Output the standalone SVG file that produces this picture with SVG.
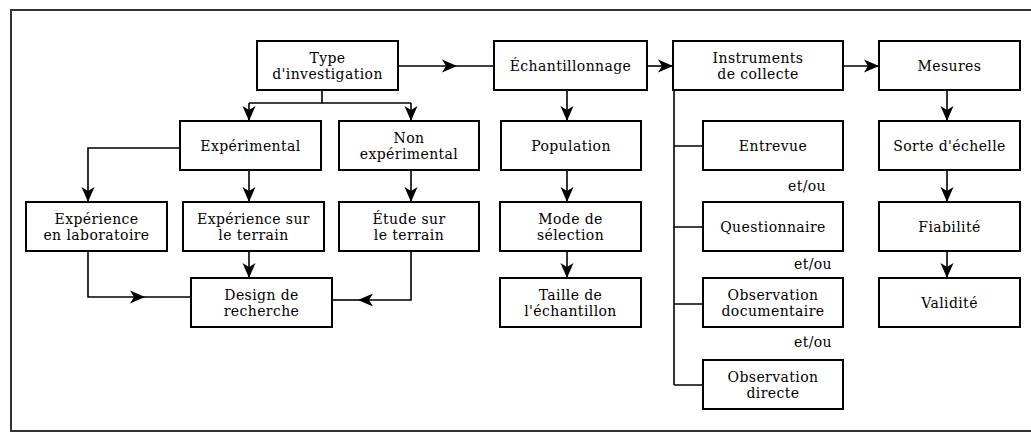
<svg xmlns="http://www.w3.org/2000/svg" width="1031" height="433" viewBox="0 0 1031 433">
<style>
.box{fill:#fff;stroke:#000;stroke-width:2}
.c{fill:none;stroke:#000;stroke-width:1.6}
text{font-family:"DejaVu Serif","Liberation Serif",serif;font-size:14px;letter-spacing:0.4px;fill:#000;text-anchor:middle}
.frame{fill:none;stroke:#333;stroke-width:2}
</style>
<defs>
<marker id="ah" viewBox="-15 -7 15 14" refX="0" refY="0" markerWidth="15" markerHeight="14" orient="auto" markerUnits="userSpaceOnUse">
<path d="M0,0 L-15,-6.5 L-11,0 L-15,6.5 Z" fill="#000"/>
</marker>
</defs>
<rect width="1031" height="433" fill="#fff"/>
<path class="frame" d="M1031,10 H11 V431 H1031"/>
<g id="connectors">
<path class="c" d="M398,66 H457" marker-end="url(#ah)"/>
<path class="c" d="M457,66 H494"/>
<path class="c" d="M647,66 H673" marker-end="url(#ah)"/>
<path class="c" d="M843,66 H879" marker-end="url(#ah)"/>
<path class="c" d="M322,90 V103 M249,103 H411"/>
<path class="c" d="M249,103 V121" marker-end="url(#ah)"/>
<path class="c" d="M411,103 V121" marker-end="url(#ah)"/>
<path class="c" d="M180,148 H88 V202" marker-end="url(#ah)"/>
<path class="c" d="M249,170 V202" marker-end="url(#ah)"/>
<path class="c" d="M411,170 V202" marker-end="url(#ah)"/>
<path class="c" d="M249,251 V278" marker-end="url(#ah)"/>
<path class="c" d="M88,251 V297 H145" marker-end="url(#ah)"/>
<path class="c" d="M145,297 H191"/>
<path class="c" d="M411,251 V300 H358" marker-end="url(#ah)"/>
<path class="c" d="M358,300 H332"/>
<path class="c" d="M567,90 V121" marker-end="url(#ah)"/>
<path class="c" d="M567,170 V202" marker-end="url(#ah)"/>
<path class="c" d="M567,251 V278" marker-end="url(#ah)"/>
<path class="c" d="M674,90 V385 M674,146 H703 M674,227 H703 M674,304 H703 M674,385 H703"/>
<path class="c" d="M947,90 V121" marker-end="url(#ah)"/>
<path class="c" d="M947,170 V202" marker-end="url(#ah)"/>
<path class="c" d="M947,251 V278" marker-end="url(#ah)"/>
</g>
<g id="type"><rect class="box" x="257" y="41" width="141" height="49"/><text x="327.5" y="62.5">Type</text><text x="327.5" y="79">d'investigation</text></g>
<g id="echantillonnage"><rect class="box" x="494" y="41" width="153" height="49"/><text x="570.5" y="71">Échantillonnage</text></g>
<g id="instruments"><rect class="box" x="673" y="41" width="170" height="49"/><text x="758" y="62.5">Instruments</text><text x="758" y="79">de collecte</text></g>
<g id="mesures"><rect class="box" x="879" y="41" width="141" height="49"/><text x="949.5" y="71">Mesures</text></g>
<g id="experimental"><rect class="box" x="180" y="121" width="141" height="49"/><text x="250.5" y="151">Expérimental</text></g>
<g id="nonexp"><rect class="box" x="339" y="121" width="140" height="49"/><text x="409" y="142.5">Non</text><text x="409" y="159">expérimental</text></g>
<g id="population"><rect class="box" x="501" y="121" width="140" height="49"/><text x="571" y="151">Population</text></g>
<g id="entrevue"><rect class="box" x="703" y="121" width="140" height="49"/><text x="773" y="151">Entrevue</text></g>
<g id="sorte"><rect class="box" x="879" y="121" width="141" height="49"/><text x="949.5" y="151">Sorte d'échelle</text></g>
<g id="lab"><rect class="box" x="26" y="202" width="141" height="49"/><text x="96.5" y="223.5">Expérience</text><text x="96.5" y="240">en laboratoire</text></g>
<g id="terrain"><rect class="box" x="183" y="202" width="141" height="49"/><text x="253.5" y="223.5">Expérience sur</text><text x="253.5" y="240">le terrain</text></g>
<g id="etude"><rect class="box" x="339" y="202" width="140" height="49"/><text x="409" y="223.5">Étude sur</text><text x="409" y="240">le terrain</text></g>
<g id="mode"><rect class="box" x="500" y="202" width="141" height="49"/><text x="570.5" y="223.5">Mode de</text><text x="570.5" y="240">sélection</text></g>
<g id="questionnaire"><rect class="box" x="703" y="202" width="140" height="49"/><text x="773" y="232">Questionnaire</text></g>
<g id="fiabilite"><rect class="box" x="879" y="202" width="141" height="49"/><text x="949.5" y="232">Fiabilité</text></g>
<g id="design"><rect class="box" x="191" y="278" width="141" height="49"/><text x="261.5" y="299.5">Design de</text><text x="261.5" y="316">recherche</text></g>
<g id="taille"><rect class="box" x="500" y="278" width="141" height="49"/><text x="570.5" y="299.5">Taille de</text><text x="570.5" y="316">l'échantillon</text></g>
<g id="obsdoc"><rect class="box" x="703" y="278" width="140" height="49"/><text x="773" y="299.5">Observation</text><text x="773" y="316">documentaire</text></g>
<g id="validite"><rect class="box" x="879" y="278" width="141" height="49"/><text x="949.5" y="308">Validité</text></g>
<g id="obsdir"><rect class="box" x="703" y="360" width="140" height="49"/><text x="773" y="381.5">Observation</text><text x="773" y="398">directe</text></g>
<g id="labels"><text x="807" y="191">et/ou</text><text x="813" y="269">et/ou</text><text x="813" y="347">et/ou</text></g>
</svg>
